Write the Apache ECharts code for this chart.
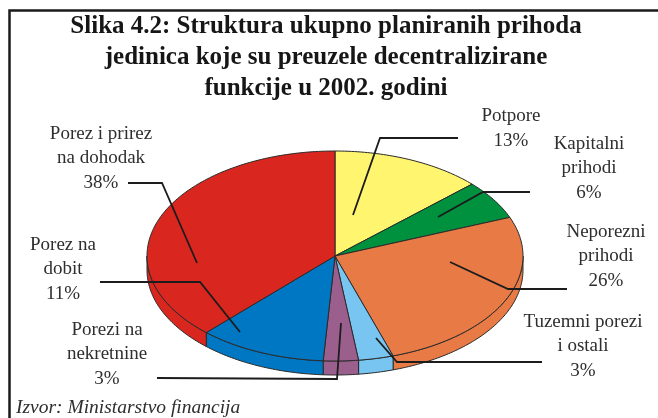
<!DOCTYPE html>
<html>
<head>
<meta charset="utf-8">
<script src="https://cdn.jsdelivr.net/npm/echarts@6/dist/echarts.min.js"></script>
<style>
  html, body { margin: 0; padding: 0; background: #ffffff; }
  #chart { width: 658px; height: 418px; }
</style>
</head>
<body>
<div id="chart"></div>
<script>
// ---- data ----
const categories = [
  'Potpore',
  'Kapitalni prihodi',
  'Neporezni prihodi',
  'Tuzemni porezi i ostali',
  'Porezi na nekretnine',
  'Porez na dobit',
  'Porez i prirez na dohodak'
];
const shares = [13, 6, 26, 3, 3, 11, 38];           // % of total, clockwise from 12 o'clock
const labelNameLines = [
  ['Potpore'],
  ['Kapitalni', 'prihodi'],
  ['Neporezni', 'prihodi'],
  ['Tuzemni porezi', 'i ostali'],
  ['Porezi na', 'nekretnine'],
  ['Porez na', 'dobit'],
  ['Porez i prirez', 'na dohodak']
];
const titleLines = [
  'Slika 4.2: Struktura ukupno planiranih prihoda',
  'jedinica koje su preuzele decentralizirane',
  'funkcije u 2002. godini'
];
const sourceText = 'Izvor: Ministarstvo financija';

// ---- styling / layout ----
const sliceColors = ['#fff56e', '#00913f', '#e87a45', '#77c5f0', '#9b5f8e', '#0077c2', '#d9261e'];
const PIE = { cx: 335, cy: 256, rx: 188, ry: 105, depth: 14 };
const OUTLINE = '#2a2a2a';
const SERIF = '"Liberation Serif", "Times New Roman", serif';
const LABEL_LH = 24.5;
// centre of the first text line of each label
const labelPos = [[511, 116.5], [589, 144], [606, 232], [583, 322], [107, 330], [63, 245], [101, 134]];
// leader lines: label end -> elbow -> point inside the slice
const leaderPaths = [
  [[458, 138], [380, 138], [353, 215]],
  [[530, 192], [483, 192], [438, 217]],
  [[567, 289], [508, 289], [450, 262]],
  [[542, 362], [397, 362], [376, 338]],
  [[157, 378], [337, 379], [341, 323]],
  [[100, 282], [200, 282], [240, 332]],
  [[128, 183], [162, 183], [197, 263]]
];

const total = shares.reduce((a, b) => a + b, 0);

function sliceRange(i, value) {
  let before = 0;
  for (let k = 0; k < i; k++) before += shares[k];
  const a0 = before / total * 360;
  return [a0, a0 + value / total * 360];
}

// point on the elliptical rim, angle in degrees clockwise from the top
function rim(deg, dy) {
  const r = deg * Math.PI / 180;
  return [PIE.cx + PIE.rx * Math.sin(r), PIE.cy - PIE.ry * Math.cos(r) + (dy || 0)];
}

function arc(a0, a1, dy) {
  const pts = [];
  const n = Math.max(2, Math.ceil((a1 - a0) / 1));
  for (let s = 0; s <= n; s++) pts.push(rim(a0 + (a1 - a0) * s / n, dy));
  return pts;
}

function renderTop(params, api) {
  const i = params.dataIndex;
  const [a0, a1] = sliceRange(i, api.value(0));
  const pts = [[PIE.cx, PIE.cy]].concat(arc(a0, a1, 0));
  return {
    type: 'polygon',
    shape: { points: pts },
    style: { fill: sliceColors[i], stroke: OUTLINE, lineWidth: 1 }
  };
}

function renderSide(params, api) {
  const i = params.dataIndex;
  const [a0, a1] = sliceRange(i, api.value(0));
  const s = Math.max(a0, 90), e = Math.min(a1, 270);
  if (s >= e) return null;
  const top = arc(s, e, 0);
  const bottom = arc(s, e, PIE.depth).reverse();
  return {
    type: 'polygon',
    shape: { points: top.concat(bottom) },
    style: { fill: sliceColors[i], stroke: OUTLINE, lineWidth: 1 }
  };
}

const graphics = [];
// frame
graphics.push({
  type: 'rect', z: 1,
  shape: { x: 9.5, y: 10.5, width: 720, height: 500 },
  style: { fill: null, stroke: '#1a1a1a', lineWidth: 2.5 }
});
// title
titleLines.forEach((t, k) => {
  graphics.push({
    type: 'text', z: 10, x: 326, y: 27 + k * 30.8,
    style: {
      text: t, font: 'bold 25px ' + SERIF, fill: '#161616',
      textAlign: 'center', textVerticalAlign: 'middle', align: 'center', verticalAlign: 'middle'
    }
  });
});
// slice labels
categories.forEach((name, i) => {
  const lines = labelNameLines[i].concat([shares[i] + '%']);
  lines.forEach((t, k) => {
    graphics.push({
      type: 'text', z: 10, x: labelPos[i][0], y: labelPos[i][1] + k * LABEL_LH,
      style: {
        text: t, font: '19px ' + SERIF, fill: '#2e2e2e',
        textAlign: 'center', textVerticalAlign: 'middle', align: 'center', verticalAlign: 'middle'
      }
    });
  });
  graphics.push({
    type: 'polyline', z: 20,
    shape: { points: leaderPaths[i] },
    style: { fill: null, stroke: '#1c1c1c', lineWidth: 1.8 }
  });
});
// source note
graphics.push({
  type: 'text', z: 10, x: 16, y: 408,
  style: {
    text: sourceText, font: 'italic 19.5px ' + SERIF, fill: '#2e2e2e',
    textAlign: 'left', textVerticalAlign: 'middle', align: 'left', verticalAlign: 'middle'
  }
});

const chart = echarts.init(document.getElementById('chart'), null, { renderer: 'canvas' });
const seriesData = shares.map((v, i) => ({ name: categories[i], value: [v] }));
chart.setOption({
  animation: false,
  backgroundColor: '#ffffff',
  series: [
    { type: 'custom', coordinateSystem: 'none', silent: true, z: 2, renderItem: renderSide, data: seriesData },
    { type: 'custom', coordinateSystem: 'none', silent: true, z: 3, renderItem: renderTop, data: seriesData }
  ],
  graphic: { elements: graphics }
});
</script>
</body>
</html>
